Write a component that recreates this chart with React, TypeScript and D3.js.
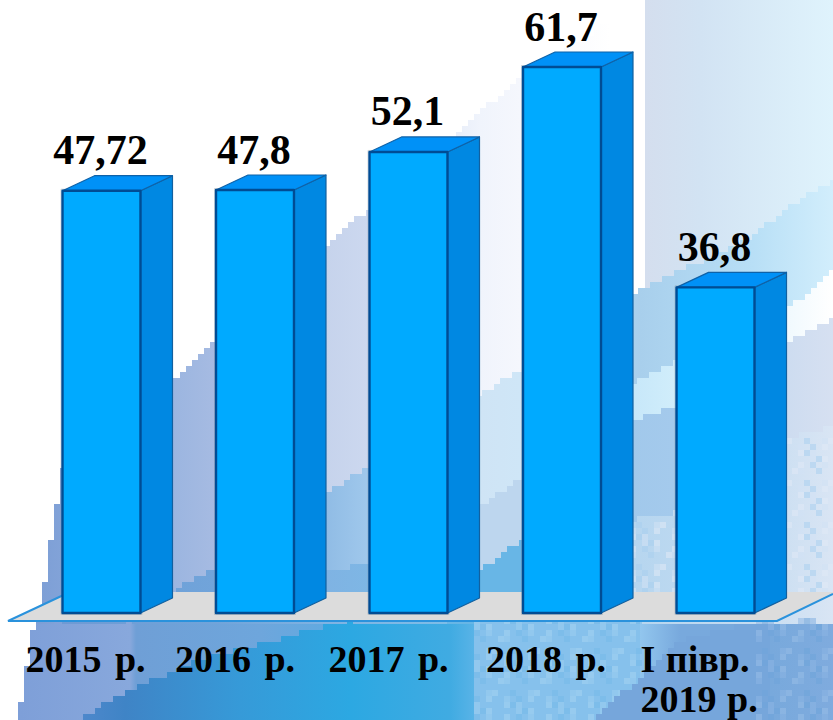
import React from "react";
import * as d3 from "d3";

const categories = ["2015 р.", "2016 р.", "2017 р.", "2018 р.", "I півр.|2019 р."];
const values = [47.72, 47.8, 52.1, 61.7, 36.8];
const valueLabels = ["47,72", "47,8", "52,1", "61,7", "36,8"];

const W = 833, H = 720;
const FLOOR_Y = 613, DX = 32, DY = 15;
const SERIF = "'Liberation Serif','Times New Roman',serif";
const labelShift = [-16, -20, -20, -16, -75];

const x = d3.scaleBand<string>().domain(categories).range([62.5, 754.5]).paddingInner(0.492).paddingOuter(0);
const y = d3.scaleLinear().domain([0, 61.7]).range([FLOOR_Y, 67]);

type P = [number, number];
// stepped (pixelated) region: everything under a boundary polyline, in 6px blocks
function steppedRegion(line: P[], bottom: number, cell = 6) {
  const x0 = line[0][0], x1 = line[line.length - 1][0];
  const f = d3.scaleLinear().domain(line.map(p => p[0])).range(line.map(p => p[1]));
  let d = `M${x0},${bottom}`;
  for (let cx = x0; cx < x1; cx += cell) {
    const yy = Math.round(f(cx + cell / 2) / cell) * cell;
    const nx = Math.min(cx + cell, x1);
    d += `L${cx},${yy}L${nx},${yy}`;
  }
  return d + `L${x1},${bottom}Z`;
}

function Grad({ id, stops }: { id: string; stops: [number, string][] }) {
  return (
    <linearGradient id={id} gradientUnits="userSpaceOnUse" x1={0} x2={W} y1={0} y2={0}>
      {stops.map(([o, c], i) => <stop key={i} offset={o / W} stopColor={c} />)}
    </linearGradient>
  );
}

function mosaic(x0: number, x1: number, y0: number, y1: number, tones: string[], opacity: number) {
  const cells: React.ReactNode[] = [];
  for (let i = Math.floor(x0 / 6); i * 6 < x1; i++) {
    for (let j = Math.floor(y0 / 6); j * 6 < y1; j++) {
      const k = (i * i * 7 + j * j * 3 + i * j * 5 + i * 11 + j * 13) % 7;
      if (k < tones.length) {
        cells.push(<rect key={`${i}-${j}`} x={i * 6} y={j * 6} width={6} height={6} fill={tones[k]} opacity={opacity} />);
      }
    }
  }
  return cells;
}

function Background() {
  return (
    <g>
      <defs>
        <Grad id="g1" stops={[[40, "#7d9fd6"], [172, "#9bb5e0"], [215, "#a6bbe2"], [326, "#c6d3ec"], [369, "#ccd8ef"], [480, "#f0f4fc"], [520, "#f5f7fd"], [610, "#ffffff"]]} />
        <Grad id="g2" stops={[[645, "#d4deee"], [700, "#d2e3f3"], [833, "#dff3fc"]]} />
        <Grad id="g3" stops={[[326, "#90bce5"], [369, "#a0c8ec"], [480, "#cfe4f5"], [520, "#cfe6f7"], [600, "#b5d6f0"], [640, "#a8cfec"], [753, "#b8dff6"], [833, "#d2eefc"]]} />
        <Grad id="g4" stops={[[601, "#bfe3f8"], [680, "#d2eefb"], [760, "#e8f6fd"], [833, "#ffffff"]]} />
        <Grad id="g5" stops={[[601, "#9fc7ea"], [700, "#a6cbed"], [786, "#cddcf0"], [833, "#d6e0f1"]]} />
        <Grad id="g6" stops={[[601, "#b2d4ef"], [753, "#c5dcf1"], [833, "#d9e5f4"]]} />
        <Grad id="g7" stops={[[62, "#6f9ad4"], [172, "#6fa2d9"], [216, "#71a4da"], [326, "#7fb3e3"], [447, "#7dbde8"]]} />
        <Grad id="b1" stops={[[20, "#7e9fd8"], [130, "#88a8dc"], [136, "#6f9fd6"], [260, "#6ea6dc"], [350, "#5cabe2"], [450, "#55ade4"], [480, "#86c2ec"], [640, "#92c6ee"], [680, "#78a9dd"], [770, "#78a9dc"], [833, "#7fabde"]]} />
        <Grad id="b2" stops={[[77, "#4f88cc"], [125, "#3f84c6"], [240, "#369ad8"], [350, "#2ca8e2"], [450, "#40abe2"], [480, "#5fb5e8"]]} />
        <clipPath id="mosaicClip"><path d={steppedRegion([[601, 535], [633, 520], [750, 500], [786, 440], [833, 425]], 600)} /></clipPath>
      </defs>
      <rect width={W} height={H} fill="#fff" />
      <path d={steppedRegion([[18, 720], [42, 600], [62, 470], [172, 380], [213, 343], [326, 247], [369, 208], [500, 95], [523, 75], [645, 0]], 720)} fill="url(#g1)" />
      <rect x={645} y={0} width={188} height={720} fill="url(#g2)" />
      <path d={steppedRegion([[326, 492], [369, 468], [480, 395], [520, 370], [633, 293], [675, 273], [753, 237], [787, 207], [833, 180]], 720)} fill="url(#g3)" />
      <path d={steppedRegion([[601, 395], [633, 382], [676, 362], [786, 310], [833, 272]], 720)} fill="url(#g4)" />
      <path d={steppedRegion([[601, 435], [633, 420], [676, 405], [786, 343], [833, 318]], 720)} fill="url(#g5)" />
      <path d={steppedRegion([[601, 535], [633, 520], [750, 500], [786, 440], [833, 425]], 720)} fill="url(#g6)" />
      <g clipPath="url(#mosaicClip)">{mosaic(601, 833, 420, 596, ["#e0e9f6", "#a9d0ee", "#d2e2f4"], 0.55)}</g>
      <path d={steppedRegion([[447, 520], [480, 505], [520, 480], [601, 430]], 720)} fill="#bdd6ee" />
      <path d={steppedRegion([[447, 590], [480, 570], [520, 540], [601, 490]], 720)} fill="#68b6e6" />
      <path d={steppedRegion([[62, 615], [172, 592], [216, 567], [326, 573], [369, 562], [447, 545]], 720)} fill="url(#g7)" />
      {/* below the floor */}
      <path d={steppedRegion([[18, 720], [35, 621], [833, 621]], 720)} fill="url(#b1)" />
      <path d={steppedRegion([[77, 720], [123, 693], [200, 660], [347, 621], [500, 621]], 720)} fill="url(#b2)" />
      <rect x={474} y={621} width={166} height={99} fill="#86c1ec" />
      {mosaic(474, 640, 621, 720, ["#a6d3f2", "#77b9e9", "#9ccdf0"], 0.55)}
      <path d={steppedRegion([[590, 720], [610, 700], [640, 680], [680, 640], [740, 625], [770, 621]], 720)} fill="#76a6db" />
      {mosaic(760, 833, 621, 720, ["#96bce6", "#6fa5da", "#8ab4e2"], 0.6)}
    </g>
  );
}

export default function App() {
  const bw = x.bandwidth();
  return (
    <svg width={W} height={H} viewBox={`0 0 ${W} ${H}`} style={{ position: "fixed", left: 0, top: 0, display: "block" }}>
      <Background />
      <polygon points={`8,621 70,592 833,592 833,594 777,621`} fill="#dcdcdc" />
      <polyline points={`70,592 8,621 777,621 833,594`} fill="none" stroke="#2a92dc" strokeWidth={2} />
      {categories.map((c, i) => {
        const x0 = x(c)!, x1 = x0 + bw, t = y(values[i]);
        return (
          <g key={c} strokeLinejoin="round">
            <rect x={x0 - 1.5} y={t - 1.5} width={bw + 3} height={FLOOR_Y - t + 3} fill="none" stroke="#7f8c99" strokeOpacity={0.35} strokeWidth={1} />
            <polygon points={`${x1},${t} ${x1 + DX},${t - DY} ${x1 + DX},${FLOOR_Y - DY} ${x1},${FLOOR_Y}`} fill="#0088e2" stroke="#12609f" strokeWidth={1.2} />
            <polygon points={`${x0},${t} ${x0 + DX},${t - DY} ${x1 + DX},${t - DY} ${x1},${t}`} fill="#0091f7" stroke="#0f62a8" strokeWidth={1.2} />
            <rect x={x0} y={t} width={bw} height={FLOOR_Y - t} fill="#00aaff" stroke="#004c94" strokeWidth={2.4} />
            <text x={x0 + bw / 2 - 1} y={t - 26.5} textAnchor="middle" fontFamily={SERIF} fontWeight="bold" fontSize={42} fill="#000">
              {valueLabels[i]}
            </text>
          </g>
        );
      })}
      {categories.map((c, i) => {
        const cx = x(c)! + bw / 2 + labelShift[i];
        return c.split("|").map((line, k) => (
          <text key={c + k} x={cx} y={672 + k * 40} textAnchor={i === 4 ? "start" : "middle"} fontFamily={SERIF} fontWeight="bold" fontSize={38} wordSpacing={i === 4 ? 1 : 4} fill="#000">
            {line}
          </text>
        ));
      })}
    </svg>
  );
}
